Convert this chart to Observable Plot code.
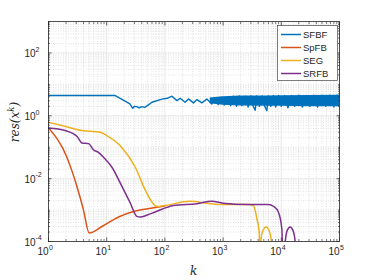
<!DOCTYPE html>
<html><head><meta charset="utf-8">
<script src="https://cdn.jsdelivr.net/npm/d3@7"></script>
<script src="https://cdn.jsdelivr.net/npm/@observablehq/plot@0.6"></script>
<style>body{margin:0;background:#fff;} #chart{width:374px;height:280px;}</style>
</head><body><div id="chart"></div>
<script>
const seriesNames = ["SFBF", "SpFB", "SEG", "SRFB"];
const seriesColors = ["#0072BD", "#D95319", "#EDB120", "#7E2F8E"];

// SFBF (blue)
const sfbfK = [1, 14, 18, 25, 28, 30, 33, 36, 40, 45, 50, 60, 89, 110, 132, 161, 183, 223, 254, 310, 355, 432, 526, 641, 731, 824, 927, 1047,
  1200, 1350, 1500, 1700, 1900, 2100, 2400, 2700, 3000, 3300, 3560, 3800, 4200, 4700, 5200, 5650, 6000, 6600, 7300, 8000, 9000, 10000,
  11500, 13000, 15000, 17000, 20000, 23000, 27000, 31000, 36000, 42000, 50000, 58000, 68000, 80000, 90000, 100000];
const sfbfV = [4.4, 4.4, 3.4, 2.4, 1.73, 2.0, 1.95, 1.8, 1.95, 1.85, 2.1, 2.7, 3.4, 3.6, 4.2, 3.04, 3.6, 2.69, 3.44, 2.57, 3.27, 2.57, 3.44, 2.39, 3.78, 2.27, 3.9, 2.2,
  4.1, 2.1, 4.2, 2.0, 4.3, 2.1, 4.2, 1.9, 4.3, 2.0, 1.5, 4.3, 2.0, 4.3, 2.0, 1.45, 4.3, 2.0, 4.4, 1.9, 4.4, 2.0,
  4.4, 1.8, 4.4, 2.0, 4.5, 1.9, 4.4, 2.0, 4.5, 1.9, 4.5, 2.0, 4.5, 1.9, 4.5, 2.0];
// SFBF dense oscillation envelope
const bandK = [600, 1000, 2000, 5000, 10000, 30000, 100000];
const bandLo = [2.4, 2.15, 2.05, 2.0, 2.0, 1.95, 1.95];
const bandHi = [3.7, 4.0, 4.25, 4.3, 4.35, 4.45, 4.5];

// SpFB (orange)
const spfbK = [1, 2.07, 2.52, 3.1, 4.0, 5, 8.3, 16, 31, 68, 100];
const spfbV = [0.41, 0.048, 0.018, 0.0054, 0.00098, 0.000186, 0.0003, 0.0006, 0.00093, 0.0012, 0.00135];

// SEG (yellow)
const segK = [1, 1.7, 3.75, 7.8, 9.4, 18, 31, 46, 60, 73, 100, 270, 530, 1000, 2700, 3320, 3800, 4170, 4340, 4450, 4800, 5460, 6200, 6750, 6890];
const segV = [0.62, 0.49, 0.34, 0.3, 0.25, 0.1, 0.023, 0.0043, 0.0018, 0.0013, 0.0014, 0.0019, 0.00165, 0.0015, 0.0015, 0.0014, 0.00054, 0.0002, 0.00001, 0.0001, 0.00022, 0.00029, 0.00022, 0.0001, 0.00001];

// SRFB (purple)
const srfbK = [1, 1.94, 3.1, 3.75, 4.9, 5.9, 7.2, 8.8, 12.3, 18, 25, 33, 37.6, 50, 68, 140, 355, 640, 1000, 2600, 6000, 7400, 8900, 10200, 10900, 11700, 12700, 14200, 15800, 17300, 18000];
const srfbV = [0.41, 0.34, 0.22, 0.137, 0.13, 0.083, 0.069, 0.048, 0.023, 0.006, 0.0018, 0.00063, 0.0006, 0.0007, 0.00087, 0.0014, 0.0016, 0.0019, 0.00165, 0.0015, 0.0015, 0.0013, 0.00087, 0.00026, 0.00001, 0.0001, 0.00023, 0.00029, 0.00023, 0.0001, 0.00001];

// ticks
const xMajor = [1, 10, 100, 1000, 10000, 100000];
const xMajorExp = ["0", "1", "2", "3", "4", "5"];
const yMajor = [1e-4, 1e-2, 1, 1e2];
const yMajorExp = ["-4", "-2", "0", "2"];
const xDecades = [1, 10, 100, 1000, 10000];
const yDecades = [1e-4, 1e-3, 1e-2, 1e-1, 1, 10, 100];
const subSteps = [2, 3, 4, 5, 6, 7, 8, 9];
const yOddDecades = [1e-3, 1e-1, 10];

const xMinor = xDecades.flatMap(d => subSteps.map(m => d * m));
const yMinor = yDecades.flatMap(d => subSteps.map(m => d * m)).concat(yOddDecades);

const rows = (K, V) => K.map((k, i) => ({k, v: V[i]}));
const band = bandK.map((k, i) => ({k, lo: bandLo[i], hi: bandHi[i]}));

const axisFont = "Liberation Sans, Arial, Helvetica, sans-serif";
const ink = "#262626";

const lineOpts = (c) => ({x: "k", y: "v", stroke: c, strokeWidth: 1.5, clip: true});

const plot = Plot.plot({
  width: 374,
  height: 280,
  marginLeft: 48,
  marginRight: 35,
  marginTop: 21,
  marginBottom: 39,
  style: {background: "#fff", fontFamily: axisFont},
  x: {type: "log", domain: [1, 1e5], axis: null},
  y: {type: "log", domain: [1e-4, 1e3], axis: null},
  marks: [
    Plot.ruleX(xMinor, {x: d => d, stroke: "#cfcfcf", strokeWidth: 0.6, strokeDasharray: "1,1.5"}),
    Plot.ruleY(yMinor, {y: d => d, stroke: "#cfcfcf", strokeWidth: 0.6, strokeDasharray: "1,1.5"}),
    Plot.ruleX(xMajor, {x: d => d, stroke: "#dedede", strokeWidth: 0.7}),
    Plot.ruleY(yMajor, {y: d => d, stroke: "#dedede", strokeWidth: 0.7}),
    Plot.areaY(band, {x: "k", y1: "lo", y2: "hi", fill: seriesColors[0], clip: true}),
    Plot.line(rows(sfbfK, sfbfV), {x: "k", y: "v", stroke: seriesColors[0], strokeWidth: 1.4, clip: true}),
    Plot.line(rows(spfbK, spfbV), {...lineOpts(seriesColors[1]), curve: "monotone-x"}),
    Plot.line(rows(segK, segV), {...lineOpts(seriesColors[2]), curve: "monotone-x"}),
    Plot.line(rows(srfbK, srfbV), {...lineOpts(seriesColors[3]), curve: "monotone-x"}),
    Plot.frame({stroke: ink, strokeWidth: 0.8}),
    Plot.axisX({anchor: "bottom", ticks: xMajor, tickSize: -3.5, tickFormat: () => "", label: null, stroke: ink, strokeWidth: 0.7}),
    Plot.axisX({anchor: "top", ticks: xMajor, tickSize: -3.5, tickFormat: () => "", label: null, stroke: ink, strokeWidth: 0.7}),
    Plot.axisX({anchor: "bottom", ticks: xMinor, tickSize: -2, tickFormat: () => "", label: null, stroke: ink, strokeWidth: 0.6}),
    Plot.axisX({anchor: "top", ticks: xMinor, tickSize: -2, tickFormat: () => "", label: null, stroke: ink, strokeWidth: 0.6}),
    Plot.axisY({anchor: "left", ticks: yMajor, tickSize: -3.5, tickFormat: () => "", label: null, stroke: ink, strokeWidth: 0.7}),
    Plot.axisY({anchor: "right", ticks: yMajor, tickSize: -3.5, tickFormat: () => "", label: null, stroke: ink, strokeWidth: 0.7}),
    Plot.axisY({anchor: "left", ticks: yMinor, tickSize: -2, tickFormat: () => "", label: null, stroke: ink, strokeWidth: 0.6}),
    Plot.axisY({anchor: "right", ticks: yMinor, tickSize: -2, tickFormat: () => "", label: null, stroke: ink, strokeWidth: 0.6}),
    // x tick labels
    Plot.text(xMajor, {x: d => d, text: () => "10", frameAnchor: "bottom", textAnchor: "end", dy: 13, fontSize: 10, fill: ink}),
    Plot.text(xMajor, {x: d => d, text: (d, i) => xMajorExp[i], frameAnchor: "bottom", textAnchor: "start", dx: 0.5, dy: 8.5, fontSize: 7, fill: ink}),
    // y tick labels
    Plot.text(yMajor, {y: d => d, text: () => "10", frameAnchor: "left", textAnchor: "end", dx: -13, dy: 1, fontSize: 10, fill: ink}),
    Plot.text(yMajor, {y: d => d, text: (d, i) => yMajorExp[i], frameAnchor: "left", textAnchor: "start", dx: -13, dy: -3.5, fontSize: 7, fill: ink})
  ]
});

const svg = d3.select(plot);
// axis titles
const yl = svg.append("text")
  .attr("transform", "translate(19,122) rotate(-90)")
  .attr("text-anchor", "middle")
  .attr("font-family", "DejaVu Serif, serif")
  .attr("font-style", "italic")
  .attr("font-size", 12)
  .attr("fill", ink);
yl.append("tspan").text("res(x");
yl.append("tspan").attr("dy", -5).attr("font-size", 8.5).text("k");
yl.append("tspan").attr("dy", 5).attr("font-size", 12).text(")");

svg.append("text")
  .attr("x", 193.7).attr("y", 275)
  .attr("text-anchor", "middle")
  .attr("font-family", "DejaVu Serif, serif")
  .attr("font-style", "italic")
  .attr("font-size", 12)
  .attr("fill", ink)
  .text("k");

// legend
const lg = svg.append("g").attr("transform", "translate(277.5,25.5)");
lg.append("rect").attr("width", 60).attr("height", 55).attr("fill", "#fff").attr("stroke", ink).attr("stroke-width", 0.6);
seriesNames.forEach((name, i) => {
  const y = 9 + i * 13;
  lg.append("line").attr("x1", 3.5).attr("x2", 23.5).attr("y1", y).attr("y2", y)
    .attr("stroke", seriesColors[i]).attr("stroke-width", 1.5);
  lg.append("text").attr("x", 25.5).attr("y", y).attr("dy", "0.35em")
    .attr("text-anchor", "start")
    .attr("font-family", axisFont).attr("font-size", 9.5).attr("fill", ink).text(name);
});

document.getElementById("chart").appendChild(plot);
</script>
</body></html>
